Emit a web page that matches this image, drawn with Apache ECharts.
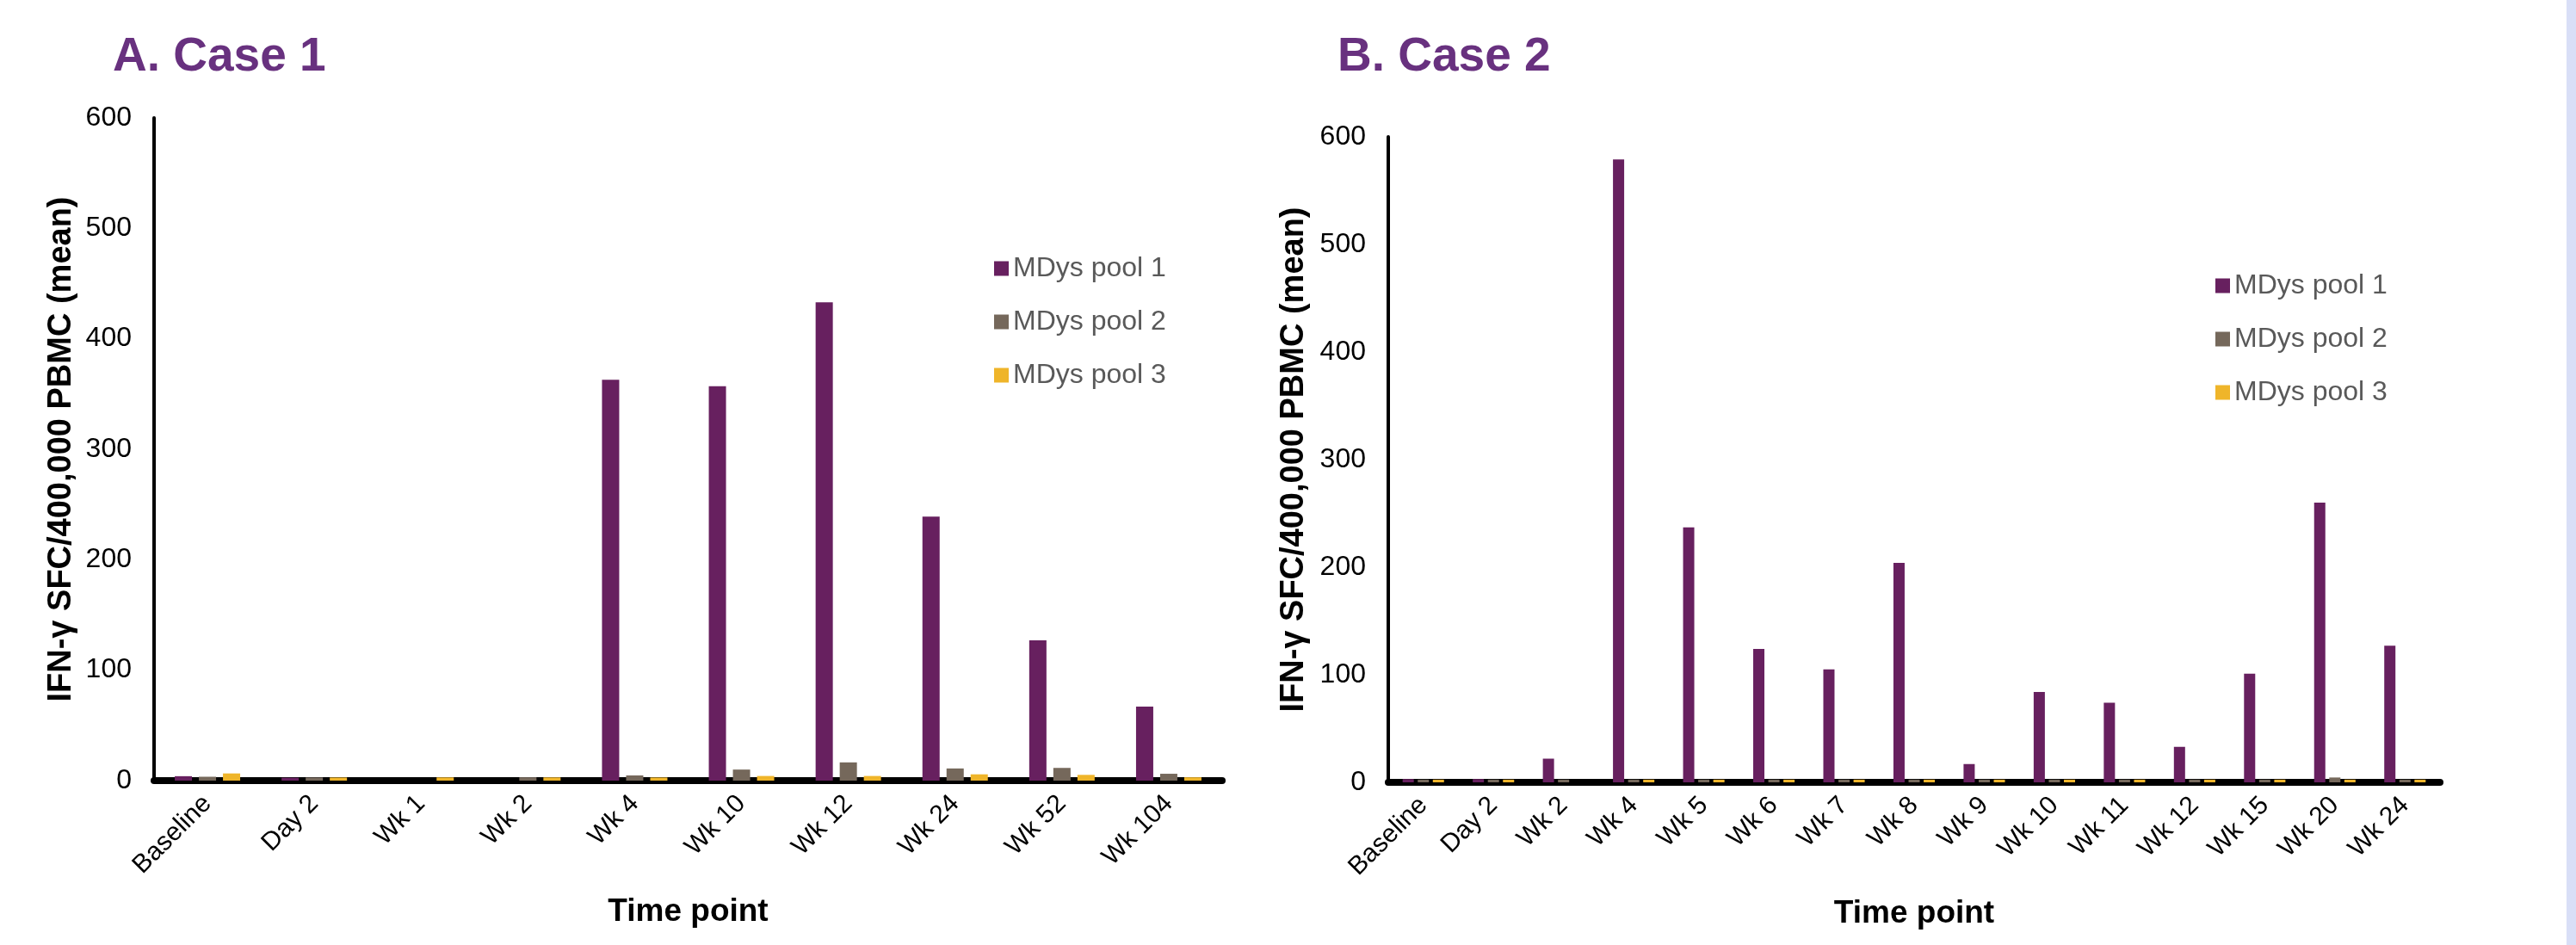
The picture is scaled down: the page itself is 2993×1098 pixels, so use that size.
<!DOCTYPE html>
<html>
<head>
<meta charset="utf-8">
<script src="https://cdn.jsdelivr.net/npm/echarts@6/dist/echarts.min.js"></script>
<style>
html,body{margin:0;padding:0;background:#fff;}
#chart{width:2993px;height:1098px;}
</style>
</head>
<body>
<div id="chart"></div>
<script>
// ---- Data ----
const seriesNames = ['MDys pool 1', 'MDys pool 2', 'MDys pool 3'];
const yTicks = [0, 100, 200, 300, 400, 500, 600];

const categoriesA = ['Baseline', 'Day 2', 'Wk 1', 'Wk 2', 'Wk 4', 'Wk 10', 'Wk 12', 'Wk 24', 'Wk 52', 'Wk 104'];
const pool1A = [4, 2.6, 0, 0, 363, 357, 433, 239, 127, 67];
const pool2A = [3.5, 2.8, 0, 3, 4.7, 10, 16.5, 11, 11.5, 6.2];
const pool3A = [6.5, 2.8, 2.9, 2.9, 2.8, 4.2, 4.2, 5.7, 5.2, 3];

const categoriesB = ['Baseline', 'Day 2', 'Wk 2', 'Wk 4', 'Wk 5', 'Wk 6', 'Wk 7', 'Wk 8', 'Wk 9', 'Wk 10', 'Wk 11', 'Wk 12', 'Wk 15', 'Wk 20', 'Wk 24'];
const pool1B = [3, 3, 22, 579, 237, 124, 105, 204, 17, 84, 74, 33, 101, 260, 127];
const pool2B = [2.5, 2.5, 2.5, 2.5, 2.5, 2.5, 2.5, 2.5, 2.5, 2.5, 2.5, 2.5, 2.5, 4.5, 2.5];
const pool3B = [2.5, 2.5, 0, 2.5, 2.5, 2.5, 2.5, 2.5, 2.5, 2.5, 2.5, 2.5, 2.5, 2.5, 2.5];

const colors = ['#67205F', '#75685B', '#EFB52A'];
const FONT = '"Liberation Sans", Arial, Helvetica, sans-serif';
const yTitle = 'IFN-γ SFC/400,000 PBMC (mean)';

const chart = echarts.init(document.getElementById('chart'));

function xAxisCfg(gridIndex, cats) {
  return {
    type: 'category', gridIndex: gridIndex, data: cats, offset: 4,
    name: 'Time point', nameLocation: 'middle', nameGap: 130,
    nameTextStyle: {fontFamily: FONT, fontWeight: 'bold', fontSize: 37, color: '#000'},
    axisLine: {show: true, lineStyle: {color: '#000', width: 8}},
    axisTick: {show: false},
    axisLabel: {interval: 0, rotate: 45, fontFamily: FONT, fontSize: 30, color: '#000', margin: 18},
    splitLine: {show: false}
  };
}
function yAxisCfg(gridIndex, gap) {
  return {
    type: 'value', gridIndex: gridIndex, min: yTicks[0], max: yTicks[yTicks.length - 1], interval: 100,
    name: yTitle, nameLocation: 'middle', nameRotate: 90, nameGap: gap,
    nameTextStyle: {fontFamily: FONT, fontWeight: 'bold', fontSize: 38, color: '#000'},
    axisLine: {show: true, lineStyle: {color: '#000', width: 4}},
    axisTick: {show: false},
    axisLabel: {fontFamily: FONT, fontSize: 32, color: '#000', margin: 26},
    splitLine: {show: false}
  };
}
function barSeries(name, data, idx, barWidth, barGap) {
  return {
    name: name, type: 'bar', xAxisIndex: idx, yAxisIndex: idx, data: data,
    barWidth: barWidth, barGap: barGap,
    itemStyle: {color: colors[seriesNames.indexOf(name)]},
    emphasis: {disabled: true}
  };
}

const legendCommon = {
  orient: 'vertical', itemWidth: 17, itemHeight: 17, itemGap: 30,
  icon: 'rect',
  textStyle: {fontFamily: FONT, fontSize: 32, color: '#595959', lineHeight: 32}
};

chart.setOption({
  animation: false,
  backgroundColor: '#fff',
  title: [
    {text: 'A. Case 1', left: 126, top: 34, textStyle: {fontFamily: FONT, fontWeight: 'bold', fontSize: 55, color: '#68317F'}},
    {text: 'B. Case 2', left: 1549, top: 34, textStyle: {fontFamily: FONT, fontWeight: 'bold', fontSize: 55, color: '#68317F'}}
  ],
  legend: [
    Object.assign({}, legendCommon, {left: 1150, top: 291, data: seriesNames.map(n => ({name: n}))}),
    Object.assign({}, legendCommon, {left: 2569, top: 311, data: seriesNames.map(n => ({name: n}))})
  ],
  grid: [
    {left: 179, top: 137, width: 1241, height: 770},
    {left: 1613, top: 159, width: 1222, height: 750}
  ],
  xAxis: [xAxisCfg(0, categoriesA), xAxisCfg(1, categoriesB)],
  yAxis: [yAxisCfg(0, 88), yAxisCfg(1, 90)],
  series: [
    barSeries(seriesNames[0], pool1A, 0, 20, '40%'),
    barSeries(seriesNames[1], pool2A, 0, 20, '40%'),
    barSeries(seriesNames[2], pool3A, 0, 20, '40%'),
    barSeries(seriesNames[0], pool1B, 1, 13, '35%'),
    barSeries(seriesNames[1], pool2B, 1, 13, '35%'),
    barSeries(seriesNames[2], pool3B, 1, 13, '35%')
  ],
  graphic: [
    {type: 'rect', left: 2982, top: 0, shape: {width: 11, height: 1098}, style: {fill: '#D9DFF7'}, silent: true}
  ]
});
</script>
</body>
</html>
